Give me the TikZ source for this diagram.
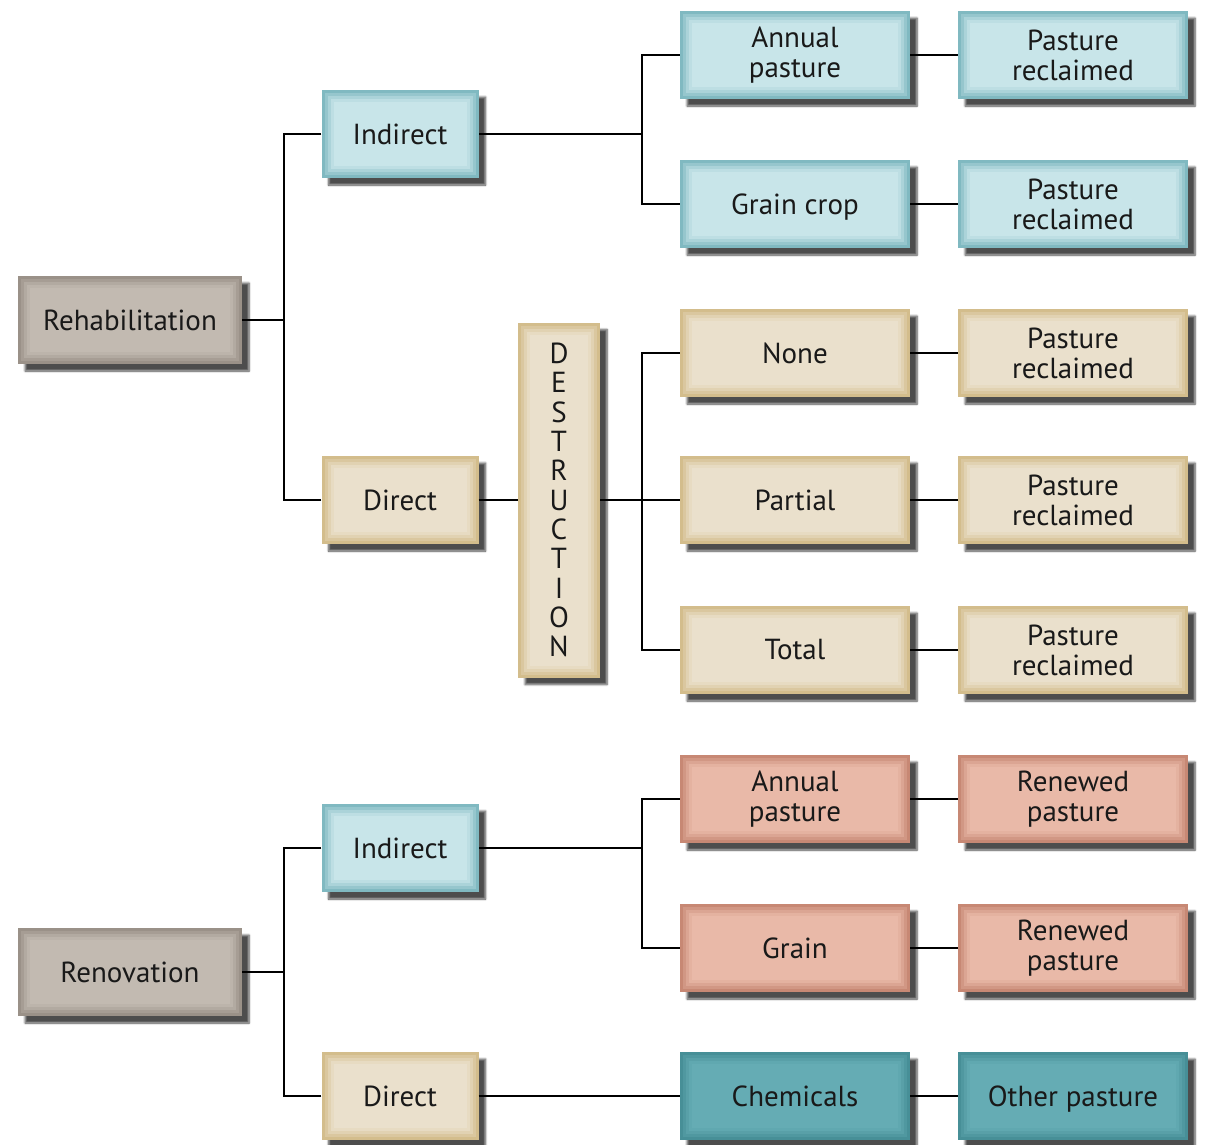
\documentclass[tikz,border=0pt]{standalone}
\usepackage{fontspec}
\setmainfont{PT Sans}
\usetikzlibrary{positioning,shadows.blur}

\definecolor{grisA}{HTML}{9A9188}
\definecolor{grisB}{HTML}{C2BAB1}
\definecolor{azulA}{HTML}{80B9C1}
\definecolor{azulB}{HTML}{C8E5E9}
\definecolor{ocreA}{HTML}{D3BD8C}
\definecolor{ocreB}{HTML}{EAE0CC}
\definecolor{rojoA}{HTML}{C78874}
\definecolor{rojoB}{HTML}{E9B9A8}
\definecolor{verdeA}{HTML}{478F97}
\definecolor{verdeB}{HTML}{65ACB4}

\tikzset{
  caja/.style 2 args={rectangle, fill=#1, inner sep=0pt, align=center,
    font=\fontsize{29}{30}\selectfont, text=black!90,
    blur shadow={shadow xshift=7pt,shadow yshift=-7pt,shadow blur steps=6,shadow opacity=70},
    path picture={
      \fill[#2!30!#1] ([xshift=3pt,yshift=-3pt]path picture bounding box.north west)
        rectangle ([xshift=-3pt,yshift=3pt]path picture bounding box.south east);
      \fill[#2!60!#1] ([xshift=6pt,yshift=-6pt]path picture bounding box.north west)
        rectangle ([xshift=-6pt,yshift=6pt]path picture bounding box.south east);
      \fill[#2!85!#1] ([xshift=9pt,yshift=-9pt]path picture bounding box.north west)
        rectangle ([xshift=-9pt,yshift=9pt]path picture bounding box.south east);
      \fill[#2] ([xshift=12pt,yshift=-12pt]path picture bounding box.north west)
        rectangle ([xshift=-12pt,yshift=12pt]path picture bounding box.south east);}},
  gris/.style={caja={grisA}{grisB}},
  azul/.style={caja={azulA}{azulB}},
  ocre/.style={caja={ocreA}{ocreB}},
  rojo/.style={caja={rojoA}{rojoB}},
  verde/.style={caja={verdeA}{verdeB}},
  raiz/.style={minimum width=224pt, minimum height=88pt},
  medio/.style={minimum width=157pt, minimum height=88pt},
  hoja/.style={minimum width=230pt, minimum height=88pt},
  linea/.style={line width=2.2pt, black}
}

\begin{document}
\begin{tikzpicture}[x=1pt,y=-1pt]
   \useasboundingbox (0,0) rectangle (1205,1144);

   %raices
   \node[gris,raiz] (rehab) at (130,320) {Rehabilitation};
   \node[gris,raiz] (renov) at (130,972) {Renovation};

   %segundo nivel
   \node[azul,medio] (indA) at (400,134) {Indirect};
   \node[ocre,medio] (dirA) at (400,500) {Direct};
   \node[azul,medio] (indB) at (400,848) {Indirect};
   \node[ocre,medio] (dirB) at (400,1096) {Direct};
   \node[ocre,minimum width=82pt,minimum height=355pt,font=\fontsize{29}{29.3}\selectfont]
      (destr) at (559,500) {D\\E\\S\\T\\R\\U\\C\\T\\I\\O\\N};

   %tercer nivel
   \node[azul,hoja] (anualA) at (795,55) {Annual\\pasture};
   \node[azul,hoja,text depth=0pt] (grano) at (795,204) {Grain crop};
   \node[ocre,hoja] (ninguna) at (795,353) {None};
   \node[ocre,hoja] (parcial) at (795,500) {Partial};
   \node[ocre,hoja] (total) at (795,650) {Total};
   \node[rojo,hoja] (anualB) at (795,799) {Annual\\pasture};
   \node[rojo,hoja] (granoB) at (795,948) {Grain};
   \node[verde,hoja] (quim) at (795,1096) {Chemicals};

   %resultados
   \node[azul,hoja] (recA) at (1073,55) {Pasture\\reclaimed};
   \node[azul,hoja] (recB) at (1073,204) {Pasture\\reclaimed};
   \node[ocre,hoja] (recC) at (1073,353) {Pasture\\reclaimed};
   \node[ocre,hoja] (recD) at (1073,500) {Pasture\\reclaimed};
   \node[ocre,hoja] (recE) at (1073,650) {Pasture\\reclaimed};
   \node[rojo,hoja] (renA) at (1073,799) {Renewed\\pasture};
   \node[rojo,hoja] (renB) at (1073,948) {Renewed\\pasture};
   \node[verde,hoja,text depth=0pt] (otra) at (1073,1096) {Other pasture};

   %lineas
   \draw[linea] (indA.west) -- ++(-37,0) |- (rehab.east);
   \draw[linea] (dirA.west) -- ++(-37,0) |- (rehab.east);
   \draw[linea] (indB.west) -- ++(-37,0) |- (renov.east);
   \draw[linea] (dirB.west) -- ++(-37,0) |- (renov.east);
   \draw[linea] (anualA.west) -- ++(-38,0) |- (indA.east);
   \draw[linea] (grano.west) -- ++(-38,0) |- (indA.east);
   \draw[linea] (dirA.east) -- (destr.west);
   \draw[linea] (ninguna.west) -- ++(-38,0) |- (destr.east);
   \draw[linea] (parcial.west) -- (destr.east);
   \draw[linea] (total.west) -- ++(-38,0) |- (destr.east);
   \draw[linea] (anualB.west) -- ++(-38,0) |- (indB.east);
   \draw[linea] (granoB.west) -- ++(-38,0) |- (indB.east);
   \draw[linea] (dirB.east) -- (quim.west);
   \foreach \a/\b in {anualA/recA,grano/recB,ninguna/recC,parcial/recD,total/recE,anualB/renA,granoB/renB,quim/otra}
      \draw[linea] (\a.east) -- (\b.west);
\end{tikzpicture}
\end{document}
